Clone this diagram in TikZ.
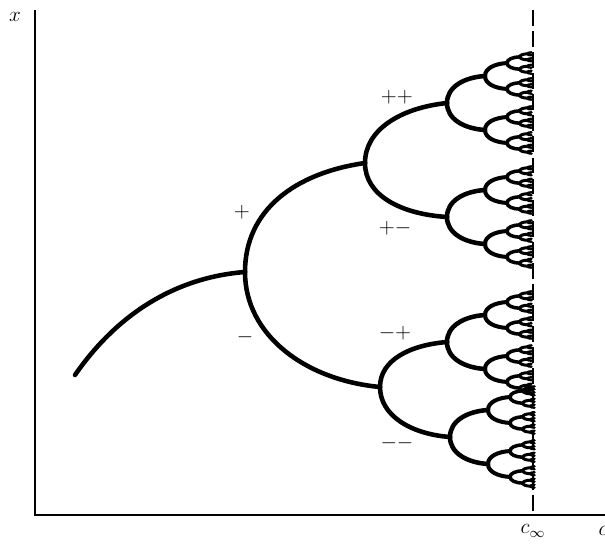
\documentclass[tikz,border=0pt]{standalone}
\usepackage{amsmath}
\usepackage{amssymb}
\usetikzlibrary{calc}
\newcommand{\treewidth}{2.6pt}
\tikzset{branch/.style={line width=\treewidth, line cap=round}}
\tikzset{axis/.style={line width=1.5pt}}
\tikzset{sign/.style={inner sep=0pt, font=\large}}

% one bifurcation and everything to the right of it
\newcommand{\cascade}[5]{%
  \ifnum#5>0
  \begingroup
    \pgfmathsetmacro{\cx}{#1}%
    \pgfmathsetmacro{\cy}{#2}%
    \pgfmathsetmacro{\cdx}{#3}%
    \pgfmathsetmacro{\cdy}{#4}%
    \pgfmathsetmacro{\cw}{1.1+0.3*#5}%
    \pgfmathtruncatemacro{\cn}{#5-1}%
    \draw[branch, line width=\cw pt] (\cx,\cy) .. controls (\cx,\cy+0.6*\cdy) and (\cx+0.45*\cdx,\cy+0.95*\cdy) .. (\cx+\cdx,\cy+\cdy);
    \draw[branch, line width=\cw pt] (\cx,\cy) .. controls (\cx,\cy-0.6*\cdy) and (\cx+0.45*\cdx,\cy-0.95*\cdy) .. (\cx+\cdx,\cy-\cdy);
    \pgfmathsetmacro{\ex}{\cx+\cdx}%
    \pgfmathsetmacro{\eu}{\cy+\cdy}%
    \pgfmathsetmacro{\el}{\cy-\cdy}%
    \pgfmathsetmacro{\ndx}{0.58*\cdx}%
    \pgfmathsetmacro{\ndy}{0.48*\cdy}%
    \cascade{\ex}{\eu}{\ndx}{\ndy}{\cn}%
    \cascade{\ex}{\el}{\ndx}{\ndy}{\cn}%
  \endgroup
  \fi}

\begin{document}
\begin{tikzpicture}[x=0.02cm,y=0.02cm]
\useasboundingbox (0,0) rectangle (605,545);

\draw[axis] (35,535) -- (35,30) -- (605,30);
\draw[line width=1.4pt, dash pattern=on 9pt off 3pt] (533,535) -- (533,30);

\coordinate (s) at (75,170);
\coordinate (b) at (245,273);
\coordinate (bp) at (365,382);
\coordinate (bm) at (380,158);
\coordinate (bpp) at (447,442);
\coordinate (bpm) at (447,328);
\coordinate (bmp) at (447,203);
\coordinate (bmm) at (450,108);

\draw[branch] (s) .. controls (120,235) and (180,268) .. (b);

\draw[branch] (b) .. controls (245,335) and (295,372) .. (bp);
\draw[branch] (b) .. controls (245,210) and (305,165) .. (bm);

\draw[branch] (bp) .. controls (365,415) and (400,437) .. (bpp);
\draw[branch] (bp) .. controls (365,350) and (400,331) .. (bpm);
\draw[branch] (bm) .. controls (380,185) and (410,200) .. (bmp);
\draw[branch] (bm) .. controls (380,130) and (410,111) .. (bmm);

%\draw[branch] (bpp) -- ++ (38,27);
\cascade{447}{442}{38}{27}{5}
\cascade{447}{328}{38}{27}{5}
\cascade{447}{203}{38}{27}{5}
\cascade{450}{108}{38}{27}{5}

\node (xlab) at (15,528) {\large $x$};
\node (cinf) at (533,14) {\large $c_{\infty}$};
\node (clab) at (603,14) {\large $c$};

\node[sign] (p) at (242,333) {$+$};
\node[sign] (m) at (245,208) {$-$};
\node[sign] (pp) at (397,448) {${+}{+}$};
\node[sign] (pm) at (395,317) {${+}{-}$};
\node[sign] (mp) at (395,212) {${-}{+}$};
\node[sign] (mm) at (397,102) {${-}{-}$};

\end{tikzpicture}
\end{document}
